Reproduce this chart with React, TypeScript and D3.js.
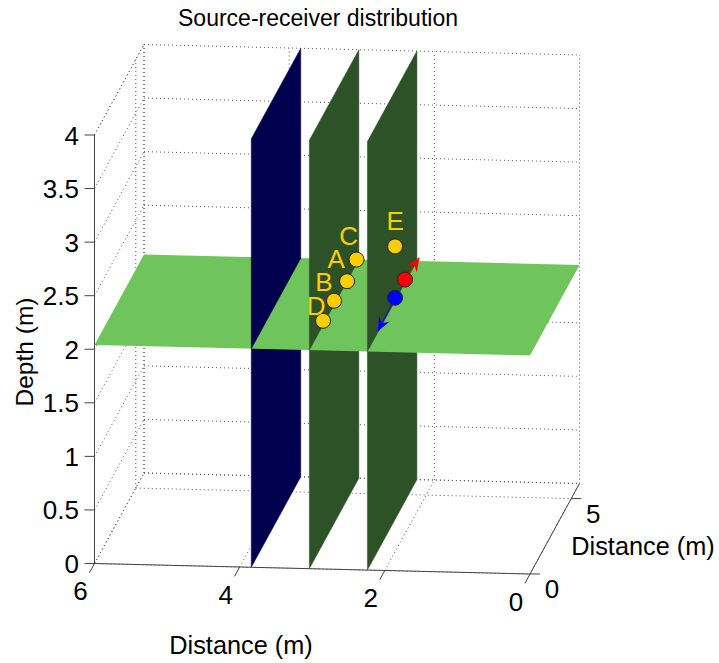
import React from "react";
import * as d3 from "d3";

const xTicks = [6, 4, 2, 0];
const yTicks = [0, 5];
const zTicks = [0, 0.5, 1, 1.5, 2, 2.5, 3, 3.5, 4];
const xMax = 6;
const yMax = 6;
const zMax = 4;

// vertical planes (distance along x) and the horizontal one (depth)
const wallX = [3.84, 3.04, 2.24];
const wallColours = ["#00004f", "#2e5227", "#2e5227"];
const floorZ = 2.04;

// points: [x, y, z]
const stations = [
  { name: "C", pos: [3.04, 5.72, 2.08], dx: -8, dy: -15 },
  { name: "A", pos: [3.04, 4.57, 2.04], dx: -11, dy: -13 },
  { name: "B", pos: [3.04, 2.99, 2.08], dx: -10, dy: -10 },
  { name: "D", pos: [3.04, 1.66, 2.08], dx: -7, dy: -6 },
  { name: "E", pos: [2.24, 3.35, 2.55], dx: 0, dy: -16 },
];
const source = { pos: [2.24, 4.56, 2.07], tip: [2.24, 6.3, 2.03], colour: "#ff0000" };
const receiver = { pos: [2.24, 3.35, 2.07], tip: [2.24, 1.28, 2.05], colour: "#0000ff" };

// orthographic view: each axis moves the pixel position along its own direction
const xToPx = d3.scaleLinear().domain([0, 6]).range([530, 94.5]);
const xToPy = d3.scaleLinear().domain([0, 6]).range([574, 563.5]);
const yToPx = d3.scaleLinear().domain([0, 6]).range([0, 49.5]);
const yToPy = d3.scaleLinear().domain([0, 6]).range([0, -90.5]);
const zToPy = d3.scaleLinear().domain([0, 4]).range([0, -428.5]);

const project = (x: number, y: number, z: number): [number, number] => [
  xToPx(x) + yToPx(y),
  xToPy(x) + yToPy(y) + zToPy(z),
];

const line3 = (pts: number[][], close = false) => {
  const path = d3.line()(pts.map((p) => project(p[0], p[1], p[2])));
  return close ? path + "Z" : path;
};

const font = "'Liberation Sans', Arial, sans-serif";

function Grid() {
  const lines: number[][][] = [];
  zTicks.forEach((z) => {
    lines.push([[xMax, yMax, z], [0, yMax, z]]);
    lines.push([[xMax, 0, z], [xMax, yMax, z]]);
  });
  lines.push([[xMax, 0, zMax], [xMax, yMax, zMax]]);
  xTicks.forEach((x) => {
    lines.push([[x, 0, 0], [x, yMax, 0]]);
    lines.push([[x, yMax, 0], [x, yMax, zMax]]);
  });
  [...yTicks, yMax].forEach((y) => {
    lines.push([[xMax, y, 0], [xMax, y, zMax]]);
    lines.push([[xMax, y, 0], [0, y, 0]]);
  });
  return (
    <g fill="none" stroke="#555" strokeWidth={1} strokeDasharray="1 3">
      {lines.map((l, i) => (
        <path key={i} d={line3(l)!} />
      ))}
    </g>
  );
}

function Arrow({ from, tip, colour }: { from: number[]; tip: number[]; colour: string }) {
  const a = project(from[0], from[1], from[2]);
  const b = project(tip[0], tip[1], tip[2]);
  const ang = Math.atan2(b[1] - a[1], b[0] - a[0]);
  const at = (len: number, side: number): [number, number] => [
    b[0] - len * Math.cos(ang) - side * Math.sin(ang),
    b[1] - len * Math.sin(ang) + side * Math.cos(ang),
  ];
  const head = [b, at(14, 6), at(9, 0), at(14, -6)] as [number, number][];
  return (
    <g>
      <line x1={a[0]} y1={a[1]} x2={b[0]} y2={b[1]} stroke={colour} strokeWidth={1.5} strokeOpacity={0.6} />
      <path d={d3.line()(head) + "Z"} fill={colour} />
    </g>
  );
}

export default function App() {
  return (
    <svg
      width={719}
      height={663}
      style={{ position: "absolute", left: 0, top: 0, background: "#fff" }}
      fontFamily={font}
    >
      <Grid />

      {/* lower halves of the walls, under the horizontal plane */}
      {wallX.map((x, i) => (
        <path
          key={i}
          d={line3([[x, 0, 0], [x, yMax, 0], [x, yMax, floorZ], [x, 0, floorZ]], true)!}
          fill={wallColours[i]}
          stroke={wallColours[i]}
          strokeWidth={0.5}
        />
      ))}

      <path
        d={line3([[xMax, 0, floorZ], [0, 0, floorZ], [0, yMax, floorZ], [xMax, yMax, floorZ]], true)!}
        fill="#6fc55c"
      />

      {/* upper halves */}
      {wallX.map((x, i) => (
        <path
          key={i}
          d={line3([[x, 0, floorZ], [x, yMax, floorZ], [x, yMax, zMax], [x, 0, zMax]], true)!}
          fill={wallColours[i]}
          stroke={wallColours[i]}
          strokeWidth={0.5}
        />
      ))}

      {/* axes */}
      <g fill="none" stroke="#444" strokeWidth={1}>
        <path d={line3([[xMax, 0, 0], [xMax, 0, zMax]])!} />
        <path d={line3([[xMax, 0, 0], [0, 0, 0]])!} />
        <path d={line3([[0, 0, 0], [0, yMax, 0]])!} />
        {zTicks.map((z) => {
          const p = project(xMax, 0, z);
          return <line key={z} x1={p[0] - 10} y1={p[1]} x2={p[0]} y2={p[1]} />;
        })}
        {xTicks.map((x) => (
          <path key={x} d={line3([[x, 0, 0], [x, -0.62, 0]])!} />
        ))}
        {yTicks.map((y) => {
          const p = project(0, y, 0);
          return <line key={y} x1={p[0]} y1={p[1]} x2={p[0] + 10} y2={p[1]} />;
        })}
      </g>

      <g fill="#000">
        <g fontSize={26}>
          {zTicks.map((z) => {
            const p = project(xMax, 0, z);
            return (
              <text key={z} x={p[0] - 15.5} y={p[1] + 9.5} textAnchor="end">
                {z}
              </text>
            );
          })}
          {xTicks.map((x) => {
            const p = project(x, 0, 0);
            return (
              <text key={x} x={p[0] - 14} y={p[1] + 36.5} textAnchor="middle">
                {x}
              </text>
            );
          })}
          {yTicks.map((y) => {
            const p = project(0, y, 0);
            return (
              <text key={y} x={p[0] + 22} y={p[1] + 24} textAnchor="middle">
                {y}
              </text>
            );
          })}
        </g>
        <g fontSize={25.3}>
          <text x={241} y={654} textAnchor="middle">Distance (m)</text>
          <text x={643} y={555} textAnchor="middle">Distance (m)</text>
        </g>
        <text transform="translate(33,352) rotate(-90)" fontSize={24.5} textAnchor="middle">Depth (m)</text>
        <text x={318} y={26} fontSize={23} textAnchor="middle">Source-receiver distribution</text>
      </g>

      {/* arrows and points */}
      <Arrow from={source.pos} tip={source.tip} colour={source.colour} />
      <Arrow from={receiver.pos} tip={receiver.tip} colour={receiver.colour} />
      {stations.map((s) => {
        const p = project(s.pos[0], s.pos[1], s.pos[2]);
        return (
          <g key={s.name}>
            <circle cx={p[0]} cy={p[1]} r={7.5} fill="#ffcc00" stroke="#222" strokeWidth={1} />
            <text x={p[0] + s.dx} y={p[1] + s.dy} fontSize={26} fill="#ffcc00" textAnchor="middle">
              {s.name}
            </text>
          </g>
        );
      })}
      {[source, receiver].map((s) => {
        const p = project(s.pos[0], s.pos[1], s.pos[2]);
        return <circle key={s.colour} cx={p[0]} cy={p[1]} r={7.5} fill={s.colour} stroke="#222" strokeWidth={1} />;
      })}
    </svg>
  );
}
